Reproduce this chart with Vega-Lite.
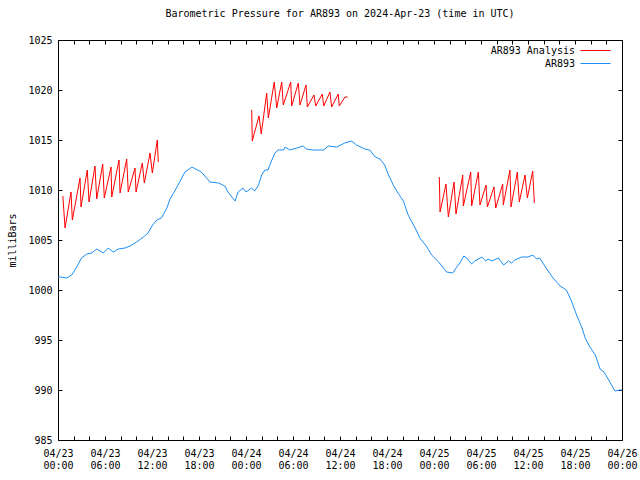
{
  "$schema": "https://vega.github.io/schema/vega-lite/v6.json",
  "width": 564,
  "height": 400,
  "autosize": {"type": "none"},
  "padding": {"left": 58, "top": 40, "right": 18, "bottom": 40},
  "background": "white",
  "title": {"text": "Barometric Pressure for AR893 on 2024-Apr-23 (time in UTC)", "font": "DejaVu Sans Mono", "fontSize": 10, "fontWeight": "normal", "color": "black", "anchor": "middle", "offset": 16},
  "config": {
    "view": {"stroke": "black", "strokeWidth": 1},
    "axis": {"grid": false, "domain": false, "labelFont": "DejaVu Sans Mono", "labelFontSize": 10, "labelColor": "black", "tickColor": "black", "tickSize": -4, "tickWidth": 1, "titleFont": "DejaVu Sans Mono", "titleFontSize": 10, "titleFontWeight": "normal", "titleColor": "black"}
  },
  "datasets": {
    "blue": [
      {"h": 0.0, "p": 1001.3, "series": "AR893"},
      {"h": 0.3, "p": 1001.3, "series": "AR893"},
      {"h": 1.1, "p": 1001.2, "series": "AR893"},
      {"h": 1.75, "p": 1001.5, "series": "AR893"},
      {"h": 2.4, "p": 1002.3, "series": "AR893"},
      {"h": 3.0, "p": 1003.2, "series": "AR893"},
      {"h": 3.66, "p": 1003.6, "series": "AR893"},
      {"h": 4.3, "p": 1003.7, "series": "AR893"},
      {"h": 4.94, "p": 1004.1, "series": "AR893"},
      {"h": 5.8, "p": 1003.7, "series": "AR893"},
      {"h": 6.4, "p": 1004.2, "series": "AR893"},
      {"h": 7.06, "p": 1003.8, "series": "AR893"},
      {"h": 7.7, "p": 1004.1, "series": "AR893"},
      {"h": 8.55, "p": 1004.2, "series": "AR893"},
      {"h": 9.2, "p": 1004.4, "series": "AR893"},
      {"h": 10.05, "p": 1004.8, "series": "AR893"},
      {"h": 10.9, "p": 1005.3, "series": "AR893"},
      {"h": 11.5, "p": 1005.7, "series": "AR893"},
      {"h": 12.0, "p": 1006.4, "series": "AR893"},
      {"h": 12.6, "p": 1007.0, "series": "AR893"},
      {"h": 13.2, "p": 1007.2, "series": "AR893"},
      {"h": 13.9, "p": 1008.2, "series": "AR893"},
      {"h": 14.3, "p": 1009.1, "series": "AR893"},
      {"h": 14.9, "p": 1009.9, "series": "AR893"},
      {"h": 15.6, "p": 1010.9, "series": "AR893"},
      {"h": 16.2, "p": 1011.8, "series": "AR893"},
      {"h": 17.1, "p": 1012.3, "series": "AR893"},
      {"h": 18.3, "p": 1011.8, "series": "AR893"},
      {"h": 19.4, "p": 1010.8, "series": "AR893"},
      {"h": 20.5, "p": 1010.7, "series": "AR893"},
      {"h": 21.3, "p": 1010.4, "series": "AR893"},
      {"h": 21.7, "p": 1009.8, "series": "AR893"},
      {"h": 22.6, "p": 1008.9, "series": "AR893"},
      {"h": 23.0, "p": 1009.8, "series": "AR893"},
      {"h": 23.6, "p": 1010.2, "series": "AR893"},
      {"h": 24.0, "p": 1009.8, "series": "AR893"},
      {"h": 24.7, "p": 1010.2, "series": "AR893"},
      {"h": 25.1, "p": 1009.9, "series": "AR893"},
      {"h": 25.6, "p": 1010.5, "series": "AR893"},
      {"h": 26.0, "p": 1011.5, "series": "AR893"},
      {"h": 26.4, "p": 1012.0, "series": "AR893"},
      {"h": 26.8, "p": 1012.0, "series": "AR893"},
      {"h": 27.3, "p": 1013.0, "series": "AR893"},
      {"h": 27.7, "p": 1013.7, "series": "AR893"},
      {"h": 28.1, "p": 1014.0, "series": "AR893"},
      {"h": 28.8, "p": 1014.0, "series": "AR893"},
      {"h": 29.0, "p": 1014.3, "series": "AR893"},
      {"h": 29.6, "p": 1014.0, "series": "AR893"},
      {"h": 30.5, "p": 1014.2, "series": "AR893"},
      {"h": 31.3, "p": 1014.4, "series": "AR893"},
      {"h": 31.7, "p": 1014.1, "series": "AR893"},
      {"h": 32.6, "p": 1014.0, "series": "AR893"},
      {"h": 33.9, "p": 1014.0, "series": "AR893"},
      {"h": 34.5, "p": 1014.4, "series": "AR893"},
      {"h": 35.6, "p": 1014.3, "series": "AR893"},
      {"h": 36.6, "p": 1014.7, "series": "AR893"},
      {"h": 37.5, "p": 1014.9, "series": "AR893"},
      {"h": 38.1, "p": 1014.5, "series": "AR893"},
      {"h": 39.2, "p": 1014.1, "series": "AR893"},
      {"h": 39.8, "p": 1014.0, "series": "AR893"},
      {"h": 40.5, "p": 1013.3, "series": "AR893"},
      {"h": 41.1, "p": 1013.1, "series": "AR893"},
      {"h": 41.7, "p": 1012.5, "series": "AR893"},
      {"h": 42.2, "p": 1011.5, "series": "AR893"},
      {"h": 42.8, "p": 1010.5, "series": "AR893"},
      {"h": 43.4, "p": 1009.7, "series": "AR893"},
      {"h": 44.1, "p": 1008.9, "series": "AR893"},
      {"h": 44.7, "p": 1007.5, "series": "AR893"},
      {"h": 45.6, "p": 1006.2, "series": "AR893"},
      {"h": 46.2, "p": 1005.2, "series": "AR893"},
      {"h": 47.1, "p": 1004.3, "series": "AR893"},
      {"h": 47.7, "p": 1003.5, "series": "AR893"},
      {"h": 48.6, "p": 1002.8, "series": "AR893"},
      {"h": 49.2, "p": 1002.2, "series": "AR893"},
      {"h": 49.6, "p": 1001.8, "series": "AR893"},
      {"h": 50.4, "p": 1001.7, "series": "AR893"},
      {"h": 50.9, "p": 1002.3, "series": "AR893"},
      {"h": 51.3, "p": 1002.7, "series": "AR893"},
      {"h": 51.8, "p": 1003.4, "series": "AR893"},
      {"h": 52.2, "p": 1003.2, "series": "AR893"},
      {"h": 52.8, "p": 1002.6, "series": "AR893"},
      {"h": 53.2, "p": 1002.9, "series": "AR893"},
      {"h": 54.1, "p": 1003.3, "series": "AR893"},
      {"h": 54.6, "p": 1002.9, "series": "AR893"},
      {"h": 54.9, "p": 1003.1, "series": "AR893"},
      {"h": 55.4, "p": 1002.9, "series": "AR893"},
      {"h": 56.2, "p": 1003.2, "series": "AR893"},
      {"h": 56.9, "p": 1002.5, "series": "AR893"},
      {"h": 57.5, "p": 1002.9, "series": "AR893"},
      {"h": 57.9, "p": 1002.7, "series": "AR893"},
      {"h": 58.3, "p": 1003.0, "series": "AR893"},
      {"h": 59.2, "p": 1003.3, "series": "AR893"},
      {"h": 60.0, "p": 1003.3, "series": "AR893"},
      {"h": 60.6, "p": 1003.5, "series": "AR893"},
      {"h": 61.1, "p": 1003.1, "series": "AR893"},
      {"h": 61.5, "p": 1003.2, "series": "AR893"},
      {"h": 61.9, "p": 1002.7, "series": "AR893"},
      {"h": 62.4, "p": 1002.1, "series": "AR893"},
      {"h": 63.2, "p": 1001.2, "series": "AR893"},
      {"h": 64.1, "p": 1000.4, "series": "AR893"},
      {"h": 64.9, "p": 1000.0, "series": "AR893"},
      {"h": 65.6, "p": 998.8, "series": "AR893"},
      {"h": 66.2, "p": 997.5, "series": "AR893"},
      {"h": 66.9, "p": 996.2, "series": "AR893"},
      {"h": 67.3, "p": 995.2, "series": "AR893"},
      {"h": 67.9, "p": 994.3, "series": "AR893"},
      {"h": 68.6, "p": 993.5, "series": "AR893"},
      {"h": 69.2, "p": 992.1, "series": "AR893"},
      {"h": 69.7, "p": 991.8, "series": "AR893"},
      {"h": 70.3, "p": 991.0, "series": "AR893"},
      {"h": 71.1, "p": 989.9, "series": "AR893"},
      {"h": 71.7, "p": 990.0, "series": "AR893"},
      {"h": 72.0, "p": 990.0, "series": "AR893"}
    ],
    "red": [
      {"h": 0.62, "p": 1009.4, "seg": "a", "series": "AR893 Analysis"},
      {"h": 0.9, "p": 1006.2, "seg": "a", "series": "AR893 Analysis"},
      {"h": 1.66, "p": 1009.8, "seg": "a", "series": "AR893 Analysis"},
      {"h": 1.83, "p": 1007.0, "seg": "a", "series": "AR893 Analysis"},
      {"h": 2.81, "p": 1011.2, "seg": "a", "series": "AR893 Analysis"},
      {"h": 2.94, "p": 1008.3, "seg": "a", "series": "AR893 Analysis"},
      {"h": 3.74, "p": 1012.0, "seg": "a", "series": "AR893 Analysis"},
      {"h": 3.96, "p": 1008.8, "seg": "a", "series": "AR893 Analysis"},
      {"h": 4.72, "p": 1012.4, "seg": "a", "series": "AR893 Analysis"},
      {"h": 4.94, "p": 1009.1, "seg": "a", "series": "AR893 Analysis"},
      {"h": 5.71, "p": 1012.6, "seg": "a", "series": "AR893 Analysis"},
      {"h": 5.91, "p": 1009.2, "seg": "a", "series": "AR893 Analysis"},
      {"h": 6.77, "p": 1012.3, "seg": "a", "series": "AR893 Analysis"},
      {"h": 6.86, "p": 1009.3, "seg": "a", "series": "AR893 Analysis"},
      {"h": 7.79, "p": 1013.0, "seg": "a", "series": "AR893 Analysis"},
      {"h": 7.92, "p": 1009.7, "seg": "a", "series": "AR893 Analysis"},
      {"h": 8.77, "p": 1013.1, "seg": "a", "series": "AR893 Analysis"},
      {"h": 8.97, "p": 1009.8, "seg": "a", "series": "AR893 Analysis"},
      {"h": 9.83, "p": 1012.2, "seg": "a", "series": "AR893 Analysis"},
      {"h": 9.96, "p": 1009.8, "seg": "a", "series": "AR893 Analysis"},
      {"h": 10.76, "p": 1012.7, "seg": "a", "series": "AR893 Analysis"},
      {"h": 11.02, "p": 1010.7, "seg": "a", "series": "AR893 Analysis"},
      {"h": 11.75, "p": 1013.7, "seg": "a", "series": "AR893 Analysis"},
      {"h": 12.04, "p": 1011.7, "seg": "a", "series": "AR893 Analysis"},
      {"h": 12.68, "p": 1015.0, "seg": "a", "series": "AR893 Analysis"},
      {"h": 12.8, "p": 1012.8, "seg": "a", "series": "AR893 Analysis"},
      {"h": 24.73, "p": 1018.0, "seg": "b", "series": "AR893 Analysis"},
      {"h": 24.8, "p": 1014.9, "seg": "b", "series": "AR893 Analysis"},
      {"h": 25.66, "p": 1017.4, "seg": "b", "series": "AR893 Analysis"},
      {"h": 25.95, "p": 1015.6, "seg": "b", "series": "AR893 Analysis"},
      {"h": 26.64, "p": 1019.7, "seg": "b", "series": "AR893 Analysis"},
      {"h": 26.85, "p": 1017.2, "seg": "b", "series": "AR893 Analysis"},
      {"h": 27.61, "p": 1020.8, "seg": "b", "series": "AR893 Analysis"},
      {"h": 27.92, "p": 1018.2, "seg": "b", "series": "AR893 Analysis"},
      {"h": 28.56, "p": 1020.8, "seg": "b", "series": "AR893 Analysis"},
      {"h": 28.76, "p": 1018.5, "seg": "b", "series": "AR893 Analysis"},
      {"h": 29.71, "p": 1020.8, "seg": "b", "series": "AR893 Analysis"},
      {"h": 29.83, "p": 1018.4, "seg": "b", "series": "AR893 Analysis"},
      {"h": 30.68, "p": 1020.7, "seg": "b", "series": "AR893 Analysis"},
      {"h": 30.89, "p": 1018.5, "seg": "b", "series": "AR893 Analysis"},
      {"h": 31.66, "p": 1020.5, "seg": "b", "series": "AR893 Analysis"},
      {"h": 31.83, "p": 1018.3, "seg": "b", "series": "AR893 Analysis"},
      {"h": 32.68, "p": 1019.5, "seg": "b", "series": "AR893 Analysis"},
      {"h": 32.9, "p": 1018.4, "seg": "b", "series": "AR893 Analysis"},
      {"h": 33.74, "p": 1019.6, "seg": "b", "series": "AR893 Analysis"},
      {"h": 33.92, "p": 1018.4, "seg": "b", "series": "AR893 Analysis"},
      {"h": 34.72, "p": 1019.8, "seg": "b", "series": "AR893 Analysis"},
      {"h": 34.93, "p": 1018.3, "seg": "b", "series": "AR893 Analysis"},
      {"h": 35.78, "p": 1019.6, "seg": "b", "series": "AR893 Analysis"},
      {"h": 35.91, "p": 1018.4, "seg": "b", "series": "AR893 Analysis"},
      {"h": 36.64, "p": 1019.3, "seg": "b", "series": "AR893 Analysis"},
      {"h": 36.98, "p": 1019.3, "seg": "b", "series": "AR893 Analysis"},
      {"h": 48.68, "p": 1011.3, "seg": "c", "series": "AR893 Analysis"},
      {"h": 48.77, "p": 1007.8, "seg": "c", "series": "AR893 Analysis"},
      {"h": 49.53, "p": 1010.6, "seg": "c", "series": "AR893 Analysis"},
      {"h": 49.83, "p": 1007.3, "seg": "c", "series": "AR893 Analysis"},
      {"h": 50.56, "p": 1010.8, "seg": "c", "series": "AR893 Analysis"},
      {"h": 50.81, "p": 1007.6, "seg": "c", "series": "AR893 Analysis"},
      {"h": 51.67, "p": 1011.5, "seg": "c", "series": "AR893 Analysis"},
      {"h": 51.74, "p": 1008.4, "seg": "c", "series": "AR893 Analysis"},
      {"h": 52.69, "p": 1011.8, "seg": "c", "series": "AR893 Analysis"},
      {"h": 52.81, "p": 1008.4, "seg": "c", "series": "AR893 Analysis"},
      {"h": 53.66, "p": 1011.8, "seg": "c", "series": "AR893 Analysis"},
      {"h": 53.87, "p": 1008.5, "seg": "c", "series": "AR893 Analysis"},
      {"h": 54.64, "p": 1010.5, "seg": "c", "series": "AR893 Analysis"},
      {"h": 54.81, "p": 1008.3, "seg": "c", "series": "AR893 Analysis"},
      {"h": 55.66, "p": 1010.3, "seg": "c", "series": "AR893 Analysis"},
      {"h": 55.88, "p": 1008.2, "seg": "c", "series": "AR893 Analysis"},
      {"h": 56.77, "p": 1010.6, "seg": "c", "series": "AR893 Analysis"},
      {"h": 56.85, "p": 1008.5, "seg": "c", "series": "AR893 Analysis"},
      {"h": 57.7, "p": 1012.0, "seg": "c", "series": "AR893 Analysis"},
      {"h": 57.83, "p": 1008.3, "seg": "c", "series": "AR893 Analysis"},
      {"h": 58.64, "p": 1011.8, "seg": "c", "series": "AR893 Analysis"},
      {"h": 58.89, "p": 1008.8, "seg": "c", "series": "AR893 Analysis"},
      {"h": 59.62, "p": 1011.5, "seg": "c", "series": "AR893 Analysis"},
      {"h": 59.92, "p": 1009.2, "seg": "c", "series": "AR893 Analysis"},
      {"h": 60.6, "p": 1011.9, "seg": "c", "series": "AR893 Analysis"},
      {"h": 60.81, "p": 1008.7, "seg": "c", "series": "AR893 Analysis"}
    ]
  },
  "resolve": {"axis": {"x": "independent", "y": "independent"}},
  "layer": [
    {
      "data": {"name": "blue"},
      "mark": {"type": "line", "strokeWidth": 1},
      "encoding": {
        "x": {"field": "h", "type": "quantitative", "scale": {"domain": [0, 72], "nice": false, "zero": false},
          "axis": {"orient": "bottom", "title": null, "values": [0,2,4,6,8,10,12,14,16,18,20,22,24,26,28,30,32,34,36,38,40,42,44,46,48,50,52,54,56,58,60,62,64,66,68,70,72],
            "labelExpr": "datum.value % 6 == 0 ? [utcFormat(utc(2024,3,23,datum.value),'%m/%d'), utcFormat(utc(2024,3,23,datum.value),'%H:%M')] : ''",
            "labelAlign": "center", "labelBaseline": "top", "labelLineHeight": 12, "labelPadding": 12, "labelFlush": false, "labelOverlap": false}},
        "y": {"field": "p", "type": "quantitative", "scale": {"domain": [985, 1025], "nice": false, "zero": false},
          "axis": {"orient": "left", "format": "d", "values": [985,990,995,1000,1005,1010,1015,1020,1025], "labelPadding": 10, "title": "milliBars", "titleX": -46, "titleY": 200, "titleAngle": -90, "titleAlign": "center", "titleBaseline": "middle"}},
        "color": {"field": "series", "type": "nominal", "scale": {"domain": ["AR893 Analysis", "AR893"], "range": ["#ff0000", "#1c8ef5"]},
          "legend": {"title": null, "orient": "none", "legendX": 532, "legendY": 5, "symbolType": "M-3,0H3", "symbolSize": 100, "symbolStrokeWidth": 1, "labelAlign": "right", "labelOffset": -26, "labelFont": "DejaVu Sans Mono", "labelFontSize": 10, "labelColor": "black", "rowPadding": 2, "padding": 0}}
      }
    },
    {
      "data": {"name": "red"},
      "mark": {"type": "line", "strokeWidth": 1},
      "encoding": {
        "x": {"field": "h", "type": "quantitative", "scale": {"domain": [0, 72], "nice": false, "zero": false},
          "axis": {"orient": "top", "title": null, "labels": false, "values": [0,2,4,6,8,10,12,14,16,18,20,22,24,26,28,30,32,34,36,38,40,42,44,46,48,50,52,54,56,58,60,62,64,66,68,70,72]}},
        "y": {"field": "p", "type": "quantitative", "scale": {"domain": [985, 1025], "nice": false, "zero": false},
          "axis": {"orient": "right", "title": null, "labels": false, "values": [985,990,995,1000,1005,1010,1015,1020,1025]}},
        "detail": {"field": "seg", "type": "nominal"},
        "color": {"field": "series", "type": "nominal", "scale": {"domain": ["AR893 Analysis", "AR893"], "range": ["#ff0000", "#1c8ef5"]},
          "legend": {"title": null, "orient": "none", "legendX": 532, "legendY": 5, "symbolType": "M-3,0H3", "symbolSize": 100, "symbolStrokeWidth": 1, "labelAlign": "right", "labelOffset": -26, "labelFont": "DejaVu Sans Mono", "labelFontSize": 10, "labelColor": "black", "rowPadding": 2, "padding": 0}}
      }
    }
  ]
}
